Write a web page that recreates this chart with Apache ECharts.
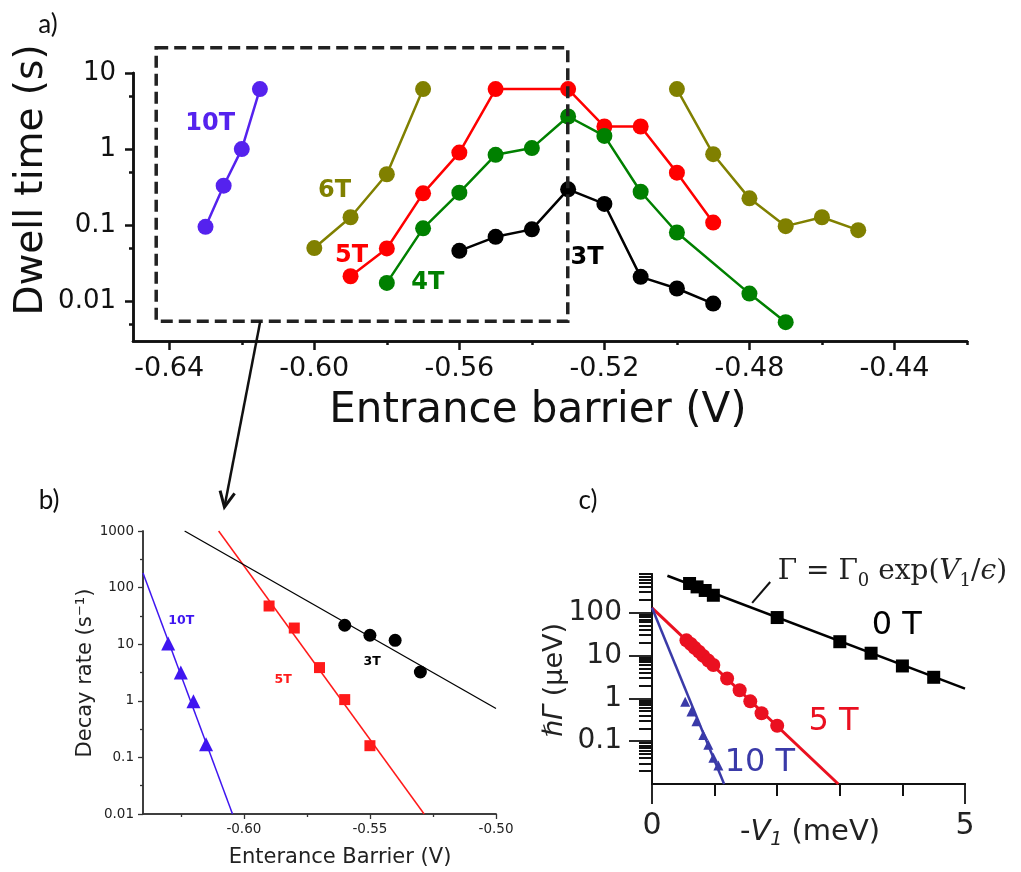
<!DOCTYPE html>
<html>
<head>
<meta charset="utf-8">
<script src="https://cdn.jsdelivr.net/npm/echarts@6/dist/echarts.min.js"></script>
<style>
  html, body { margin: 0; padding: 0; background: #fff; }
  #chart { width: 1021px; height: 872px; }
</style>
</head>
<body>
<div id="chart"></div>
<script>
// ---------- (a) dwell time vs entrance barrier, [V, s] ----------
const dwell10T    = [[-0.63, 0.095], [-0.625, 0.33], [-0.62, 1.0], [-0.615, 6.15]];
const dwell6TLow  = [[-0.60, 0.05], [-0.59, 0.127], [-0.58, 0.467], [-0.57, 6.15]];
const dwell6THigh = [[-0.50, 6.15], [-0.49, 0.857], [-0.48, 0.225], [-0.47, 0.097], [-0.46, 0.127], [-0.45, 0.086]];
const dwell5T = [[-0.59, 0.0213], [-0.58, 0.0494], [-0.57, 0.262], [-0.56, 0.9], [-0.55, 6.15],
                 [-0.53, 6.15], [-0.52, 1.98], [-0.51, 1.98], [-0.50, 0.49], [-0.49, 0.108]];
const dwell4T = [[-0.58, 0.0174], [-0.57, 0.0908], [-0.56, 0.267], [-0.55, 0.84], [-0.54, 1.03],
                 [-0.53, 2.68], [-0.52, 1.49], [-0.51, 0.275], [-0.50, 0.080], [-0.48, 0.0126], [-0.47, 0.0053]];
const dwell3T = [[-0.56, 0.046], [-0.55, 0.0703], [-0.54, 0.088], [-0.53, 0.296], [-0.52, 0.19],
                 [-0.51, 0.0209], [-0.50, 0.0147], [-0.49, 0.0093]];

// ---------- (b) decay rate vs entrance barrier, [V, 1/s] ----------
const rate10T = [[-0.63, 10.3], [-0.625, 3.15], [-0.62, 0.98], [-0.615, 0.17]];
const rate5T  = [[-0.59, 47.3], [-0.58, 19.3], [-0.57, 3.86], [-0.56, 1.05], [-0.55, 0.161]];
const rate3T  = [[-0.56, 21.6], [-0.55, 14.4], [-0.54, 11.7], [-0.53, 3.23]];
const rateFit10T = [[-0.64, 181], [-0.6045, 0.01]];
const rateFit5T  = [[-0.610, 1000], [-0.5285, 0.01]];
const rateFit3T  = [[-0.6235, 1000], [-0.50, 0.73]];

// ---------- (c) hbar*Gamma vs -V1, [meV, ueV] ----------
const gamma0T  = [[0.6, 480], [0.72, 400], [0.85, 330], [0.98, 255], [2.0, 77], [3.0, 21], [3.5, 11.3], [4.0, 5.7], [4.5, 3.1]];
const gamma5T  = [[0.55, 22.6], [0.62, 18.5], [0.68, 15.2], [0.75, 12.3], [0.82, 9.8], [0.9, 7.6], [0.98, 6.0],
                  [1.2, 2.9], [1.4, 1.55], [1.57, 0.85], [1.75, 0.45], [2.0, 0.23]];
const gamma10T = [[0.53, 0.83], [0.63, 0.49], [0.71, 0.29], [0.82, 0.14], [0.9, 0.083], [0.98, 0.041], [1.06, 0.027]];
const gammaFit0T  = [[0.246, 727], [5, 1.69]];
const gammaFit5T  = [[0, 130], [2.976, 0.01]];
const gammaFit10T = [[0, 130], [1.152, 0.01]];

// ---------- tick values ----------
const ticksAx = [-0.64, -0.60, -0.56, -0.52, -0.48, -0.44];
const minorAx = [-0.62, -0.58, -0.54, -0.50, -0.46, -0.42];
const ticksAy = [0.01, 0.1, 1, 10];
const minorAy = [0.005, 0.05, 0.5, 5];
const ticksBx = [-0.60, -0.55, -0.50];
const minorBx = [-0.625, -0.575, -0.525];
const ticksBy = [0.01, 0.1, 1, 10, 100, 1000];
const minorBy = [0.0316, 0.316, 3.16, 31.6, 316];
const ticksCx = [0, 5];
const minorCx = [1, 2, 3, 4];
const ticksCy = [0.1, 1, 10, 100];
const minorCy = [];
for (let e = -2; e <= 2; e++) for (let k = 2; k <= 9; k++) { const v = k * Math.pow(10, e); if (v <= 800) minorCy.push(v); }

const FONT = 'DejaVu Sans';
const L = Math.log10;
const toLog = arr => arr.map(([x, y]) => [x, L(y)]);
const fmtPow = v => String(parseFloat(Math.pow(10, v).toPrecision(6)));

function axisPair(dim, grid, min, max, major, minor, st) {
  const line = { show: true, onZero: false, lineStyle: { color: st.color, width: st.width } };
  const base = {
    type: 'value', gridIndex: grid, min: min, max: max,
    position: dim === 'x' ? 'bottom' : 'left',
    splitLine: { show: false }, axisPointer: { show: false }, silent: true
  };
  return [
    Object.assign({}, base, {
      axisLine: line,
      axisTick: { show: true, inside: false, length: st.major, customValues: major,
                  lineStyle: { color: st.color, width: st.tickWidth } },
      axisLabel: { show: true, customValues: major, margin: st.margin, formatter: st.fmt,
                   color: st.textColor, fontFamily: FONT, fontSize: st.fontSize }
    }),
    Object.assign({}, base, {
      axisLine: line,
      axisTick: { show: true, inside: false, length: st.minor, customValues: minor,
                  lineStyle: { color: st.color, width: st.minorWidth || st.tickWidth } },
      axisLabel: { show: false }
    })
  ];
}

const styleA = { color: '#111', width: 2.5, tickWidth: 2.5, textColor: '#111' };
const styleB = { color: '#333', width: 1.5, tickWidth: 1.3, textColor: '#222' };
const styleC = { color: '#111', width: 2, tickWidth: 1.8, minorWidth: 2, textColor: '#222' };

const xAxes = [].concat(
  axisPair('x', 0, -0.65, -0.42, ticksAx, minorAx,
    Object.assign({}, styleA, { major: 9, minor: 4, margin: 14, fontSize: 27, fmt: v => v.toFixed(2) })),
  axisPair('x', 1, -0.64, -0.50, ticksBx, minorBx,
    Object.assign({}, styleB, { major: 5, minor: 3, margin: 8, fontSize: 13.5, fmt: v => v.toFixed(2) })),
  axisPair('x', 2, 0, 5, ticksCx, minorCx,
    Object.assign({}, styleC, { major: 20, minor: 12, margin: 27, fontSize: 30, fmt: v => String(v) }))
);
const yAxes = [].concat(
  axisPair('y', 0, L(0.003), 1, ticksAy.map(L), minorAy.map(L),
    Object.assign({}, styleA, { major: 8, minor: 4, margin: 17, fontSize: 26, fmt: fmtPow })),
  axisPair('y', 1, -2, 3, ticksBy.map(L), minorBy.map(L),
    Object.assign({}, styleB, { major: 5, minor: 3, margin: 9, fontSize: 13.5, fmt: fmtPow })),
  axisPair('y', 2, -2, L(800), ticksCy.map(L), minorCy.map(L),
    Object.assign({}, styleC, { major: 23, minor: 13, margin: 30, fontSize: 28, fmt: fmtPow }))
);

function lineSeries(data, color, ax, opts) {
  return Object.assign({
    type: 'line', xAxisIndex: ax, yAxisIndex: ax, data: toLog(data),
    symbol: 'none', lineStyle: { color: color, width: 2 }, itemStyle: { color: color },
    silent: true, animation: false, z: 2
  }, opts || {});
}
function dotSeries(data, color, ax, symbol, size) {
  return {
    type: 'scatter', xAxisIndex: ax, yAxisIndex: ax, data: toLog(data),
    symbol: symbol, symbolSize: size, itemStyle: { color: color, opacity: 1 },
    silent: true, animation: false, z: 3
  };
}
function dwell(data, color) {
  return lineSeries(data, color, 0, {
    symbol: 'circle', symbolSize: 16, showSymbol: true,
    lineStyle: { color: color, width: 2.5 }
  });
}

const C = {
  a10: '#5522ee', a6: '#808000', a5: '#ff0000', a4: '#008000', a3: '#000000',
  b10: '#3f16f0', b5: '#ff1a1a', b3: '#000000',
  c0: '#000000', c5: '#ea1020', c10: '#3a3aa8'
};

const series = [
  dwell(dwell10T, C.a10), dwell(dwell6TLow, C.a6), dwell(dwell6THigh, C.a6),
  dwell(dwell5T, C.a5), dwell(dwell4T, C.a4), dwell(dwell3T, C.a3),

  lineSeries(rateFit10T, C.b10, 2, { lineStyle: { color: C.b10, width: 1.5 } }),
  lineSeries(rateFit5T, C.b5, 2, { lineStyle: { color: C.b5, width: 1.5 } }),
  lineSeries(rateFit3T, C.b3, 2, { lineStyle: { color: C.b3, width: 1.3 } }),
  dotSeries(rate10T, C.b10, 2, 'triangle', 14),
  dotSeries(rate5T, C.b5, 2, 'rect', 11),
  dotSeries(rate3T, C.b3, 2, 'circle', 13),

  lineSeries(gammaFit0T, C.c0, 4, { lineStyle: { color: C.c0, width: 2.5 } }),
  lineSeries(gammaFit5T, C.c5, 4, { lineStyle: { color: C.c5, width: 3 } }),
  lineSeries(gammaFit10T, C.c10, 4, { lineStyle: { color: C.c10, width: 2.5 } }),
  dotSeries(gamma0T, C.c0, 4, 'rect', 13),
  dotSeries(gamma5T, C.c5, 4, 'circle', 14),
  dotSeries(gamma10T, C.c10, 4, 'triangle', 10)
];

const option = {
  backgroundColor: '#ffffff',
  animation: false,
  grid: [
    { left: 133, top: 73, width: 834, height: 268, containLabel: false, outerBoundsMode: 'none' },
    { left: 143, top: 531, width: 353, height: 283, containLabel: false, outerBoundsMode: 'none' },
    { left: 652, top: 574, width: 313, height: 210, containLabel: false, outerBoundsMode: 'none' }
  ],
  xAxis: xAxes,
  yAxis: yAxes,
  series: series
};

const chart = echarts.init(document.getElementById('chart'), null, { renderer: 'canvas' });
chart.setOption(option);

// ---------- annotations ----------
const P = (ax, x, y) => chart.convertToPixel({ xAxisIndex: ax, yAxisIndex: ax }, [x, L(y)]);
const g = [];
function text(pos, str, size, color, extra) {
  g.push(Object.assign({
    type: 'text', x: pos[0], y: pos[1], z: 100,
    style: Object.assign({
      text: str, fill: color, fontSize: size, fontFamily: FONT,
      align: 'center', verticalAlign: 'middle', textAlign: 'center', textVerticalAlign: 'middle'
    }, extra && extra.style || {})
  }, extra && extra.el || {}));
}

// series labels
const labelsA = [['10T', -0.6287, 2.15, C.a10], ['6T', -0.5944, 0.281, C.a6], ['5T', -0.5897, 0.0392, C.a5],
                 ['4T', -0.5687, 0.01726, C.a4], ['3T', -0.5248, 0.0369, C.a3]];
labelsA.forEach(([s, x, y, c]) => text(P(0, x, y), s, 24, c, { style: { fontWeight: 'bold' } }));
const labelsB = [['10T', -0.6248, 25.5, C.b10], ['5T', -0.5844, 2.38, C.b5], ['3T', -0.5491, 4.83, C.b3]];
labelsB.forEach(([s, x, y, c]) => text(P(2, x, y), s, 12.5, c, { style: { fontWeight: 'bold' } }));
const labelsC = [['0 T', 3.91, 49.1, C.c0], ['5 T', 2.9, 0.292, C.c5], ['10 T', 1.723, 0.0323, C.c10]];
labelsC.forEach(([s, x, y, c]) => text(P(4, x, y), s, 32, c));

// dashed zoom box in (a) and arrow down to (b)
const boxTL = P(0, -0.6436, 21.5), boxBR = P(0, -0.5301, 0.00547);
g.push({
  type: 'rect', z: 100,
  shape: { x: boxTL[0], y: boxTL[1], width: boxBR[0] - boxTL[0], height: boxBR[1] - boxTL[1] },
  style: { fill: 'none', stroke: '#222', lineWidth: 3.5, lineDash: [12, 6] }
});
const arrowFrom = P(0, -0.6149, 0.00547);
const arrowTo = P(2, -0.6077, Math.pow(10, 3.423));
const dx = arrowTo[0] - arrowFrom[0], dy = arrowTo[1] - arrowFrom[1];
const ang = Math.atan2(dy, dx), head = 17, spread = 0.45;
g.push({
  type: 'line', z: 100,
  shape: { x1: arrowFrom[0], y1: arrowFrom[1], x2: arrowTo[0], y2: arrowTo[1] },
  style: { stroke: '#111', lineWidth: 2.5 }
});
g.push({
  type: 'polyline', z: 100,
  shape: { points: [
    [arrowTo[0] - head * Math.cos(ang - spread), arrowTo[1] - head * Math.sin(ang - spread)],
    arrowTo,
    [arrowTo[0] - head * Math.cos(ang + spread), arrowTo[1] - head * Math.sin(ang + spread)]
  ] },
  style: { stroke: '#111', lineWidth: 3, fill: 'none' }
});

// formula and its pointer in (c)
const ptrA = P(4, 1.6, Math.pow(10, 2.227)), ptrB = P(4, 1.888, Math.pow(10, 2.716));
g.push({
  type: 'line', z: 100,
  shape: { x1: ptrA[0], y1: ptrA[1], x2: ptrB[0], y2: ptrB[1] },
  style: { stroke: '#111', lineWidth: 2 }
});
const SERIF = 'DejaVu Serif';
const fPos = P(4, 3.84, 891);
g.push({
  type: 'text', z: 100, x: fPos[0], y: fPos[1],
  style: {
    text: '{a|Γ = Γ}{s|0}{a| exp(}{i|V}{s|1}{a|/}{i|ϵ}{a|)}',
    align: 'center', verticalAlign: 'middle', textAlign: 'center', textVerticalAlign: 'middle',
    fill: '#222',
    rich: {
      a: { fontFamily: SERIF, fontSize: 28, lineHeight: 36, fill: '#222', color: '#222' },
      i: { fontFamily: SERIF, fontSize: 28, lineHeight: 36, fontStyle: 'italic', fill: '#222', color: '#222' },
      s: { fontFamily: SERIF, fontSize: 18, lineHeight: 14, verticalAlign: 'bottom', fill: '#222', color: '#222' }
    }
  }
});

// axis titles
text([32, 180], 'Dwell time (s)', 39, '#111', { el: { rotation: Math.PI / 2 } });
text([538, 411], 'Entrance barrier (V)', 42, '#111');
text([86, 673], 'Decay rate (s⁻¹)', 21, '#222', { el: { rotation: Math.PI / 2 } });
text([340, 858], 'Enterance Barrier (V)', 21, '#222');
g.push({
  type: 'text', z: 100, x: 555, y: 680, rotation: Math.PI / 2,
  style: {
    text: '{i|ℏΓ}{a| (μeV)}',
    align: 'center', verticalAlign: 'middle', textAlign: 'center', textVerticalAlign: 'middle',
    rich: {
      a: { fontFamily: FONT, fontSize: 27, fill: '#222', color: '#222' },
      i: { fontFamily: FONT, fontSize: 27, fontStyle: 'italic', fill: '#222', color: '#222' }
    }
  }
});
g.push({
  type: 'text', z: 100, x: 810, y: 832,
  style: {
    text: '{a|-}{i|V}{s|1}{a| (meV)}',
    align: 'center', verticalAlign: 'middle', textAlign: 'center', textVerticalAlign: 'middle',
    rich: {
      a: { fontFamily: FONT, fontSize: 29, lineHeight: 36, fill: '#222', color: '#222' },
      i: { fontFamily: FONT, fontSize: 29, lineHeight: 36, fontStyle: 'italic', fill: '#222', color: '#222' },
      s: { fontFamily: FONT, fontSize: 19, lineHeight: 12, fontStyle: 'italic', verticalAlign: 'bottom', fill: '#222', color: '#222' }
    }
  }
});

// panel letters
text([48, 25], 'a)', 26, '#111', { style: { fontFamily: 'Lato' } });
text([49, 501], 'b)', 26, '#111', { style: { fontFamily: 'Lato' } });
text([588, 501], 'c)', 26, '#111', { style: { fontFamily: 'Lato' } });

chart.setOption({ graphic: { elements: g } });
</script>
</body>
</html>
